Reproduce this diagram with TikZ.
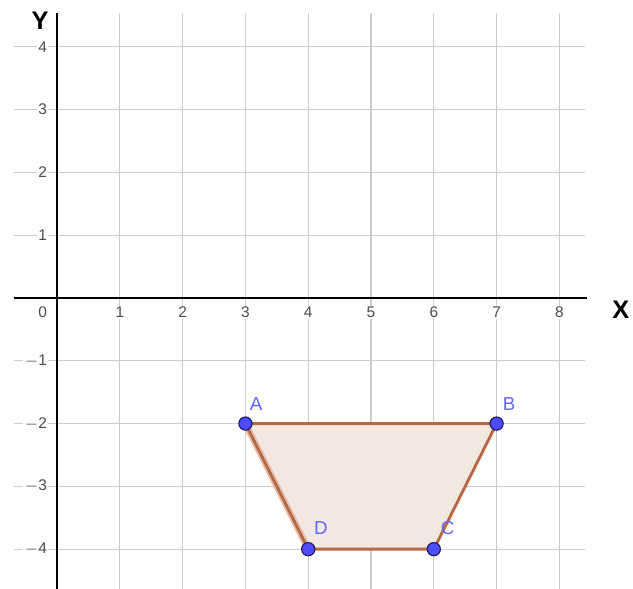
\documentclass[tikz,border=0pt]{standalone}
\usepackage{fontspec}
\setmainfont{Liberation Sans}
\begin{document}
\begin{tikzpicture}[
  gridline/.style={draw=black!20, line width=0.5pt},
  axisline/.style={draw=black, line width=0.75pt},
  ticklbl/.style={font=\fontsize{7}{8}\selectfont, text=black!70, fill=white, inner sep=0.6pt},
  axislbl/.style={font=\fontsize{11.5}{12}\selectfont\bfseries, text=black, inner sep=0pt},
  ptnode/.style={circle, fill={rgb,255:red,77;green,77;blue,255}, draw={rgb,255:red,25;green,25;blue,90}, line width=0.5pt, minimum size=0.21cm, inner sep=0pt},
  ptlbl/.style={font=\fontsize{8.5}{9}\selectfont, text={rgb,255:red,100;green,100;blue,255}, inner sep=0pt},
  polyedge/.style={draw={rgb,255:red,183;green,104;blue,66}, line width=1.3pt, line join=round},
  polyfill/.style={fill={rgb,255:red,242;green,232;blue,226}}
]
\useasboundingbox (-0.908,-4.634) rectangle (9.172,4.745);
% grid
\foreach \y in {-4,...,4} {\ifnum\y=0\else \draw[gridline] (-0.685,\y) -- (8.41,\y);\fi}
\foreach \x in {1,...,8} {\draw[gridline] (\x,4.54) -- (\x,-4.634);}
% axes
\draw[axisline] (-0.685,0) -- (8.44,0);
\draw[axisline] (0,4.54) -- (0,-4.634);
% tick labels
\foreach \y/\t in {4/4,3/3,2/2,1/1,-1/{$-$1},-2/{$-$2},-3/{$-$3},-4/{$-$4}}
  \node[ticklbl, anchor=east] (ty\y) at (-0.13,\y) {\t};
\foreach \x in {1,...,8}
  \node[ticklbl] (tx\x) at (\x,-0.23) {\x};
\node[ticklbl] (t0) at (-0.23,-0.23) {0};
\node[axislbl] (ylbl) at (-0.27,4.41) {Y};
\node[axislbl] (xlbl) at (8.98,-0.19) {X};
% polygon
\coordinate (A) at (3,-2);
\coordinate (B) at (7,-2);
\coordinate (C) at (6,-4);
\coordinate (D) at (4,-4);
\fill[polyfill] (A) -- (B) -- (C) -- (D) -- cycle;
\draw[draw={rgb,255:red,225;green,190;blue,170}, line width=3pt] (A) -- (D);
\draw[polyedge] (A) -- (B) -- (C) -- (D) -- cycle;
% points
\node[ptnode] (pA) at (A) {};
\node[ptnode] (pB) at (B) {};
\node[ptnode] (pC) at (C) {};
\node[ptnode] (pD) at (D) {};
\node[ptlbl] (lA) at (3.17,-1.69) {A};
\node[ptlbl] (lB) at (7.2,-1.69) {B};
\node[ptlbl] (lC) at (6.22,-3.66) {C};
\node[ptlbl] (lD) at (4.2,-3.66) {D};
\end{tikzpicture}
\end{document}
